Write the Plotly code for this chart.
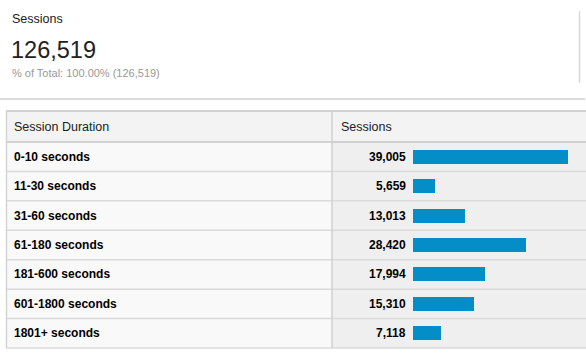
import plotly.graph_objects as go

# ---- data ----
durations = ["0-10 seconds", "11-30 seconds", "31-60 seconds", "61-180 seconds",
             "181-600 seconds", "601-1800 seconds", "1801+ seconds"]
sessions = [39005, 5659, 13013, 28420, 17994, 15310, 7118]
metric_name = "Sessions"
total_sessions = 126519
col_headers = ["Session Duration", "Sessions"]

W, H = 586, 355
FONT = "Arial, 'Liberation Sans', sans-serif"

def px(x):
    return x / W

def py(y):
    return 1 - y / H

table_top, header_bot, table_bot = 111, 142, 348
left, divider, right = 6, 332, 586
row_h = (table_bot - header_bot) / len(durations)
bar_start, bar_full = 413, 568  # pixel where 0 and max value fall

xmax = max(sessions) * (W - bar_start) / (bar_full - bar_start)

fig = go.Figure()
fig.add_trace(go.Bar(
    x=sessions, y=durations, orientation="h",
    marker=dict(color="#058dc7", line=dict(width=0)),
    width=0.48, hoverinfo="skip", showlegend=False,
))

shapes = []
shapes.append(dict(type="rect", xref="paper", yref="paper",
                   x0=px(left), x1=px(right), y0=py(header_bot), y1=py(table_top),
                   fillcolor="#f3f3f3", line=dict(width=0), layer="below"))
shapes.append(dict(type="rect", xref="paper", yref="paper",
                   x0=px(left), x1=px(divider), y0=py(table_bot), y1=py(header_bot),
                   fillcolor="#f9f9f9", line=dict(width=0), layer="below"))
shapes.append(dict(type="rect", xref="paper", yref="paper",
                   x0=px(divider), x1=px(right), y0=py(table_bot), y1=py(header_bot),
                   fillcolor="#efefef", line=dict(width=0), layer="below"))
for i in range(1, len(durations) + 1):
    yy = header_bot + i * row_h
    shapes.append(dict(type="line", xref="paper", yref="paper",
                       x0=px(left), x1=px(right), y0=py(yy), y1=py(yy),
                       line=dict(color="#dadada", width=1.5), layer="below"))
for yy in (table_top, header_bot):
    shapes.append(dict(type="line", xref="paper", yref="paper",
                       x0=px(left), x1=px(right), y0=py(yy), y1=py(yy),
                       line=dict(color="#c6c6c6", width=1.5), layer="below"))
shapes.append(dict(type="line", xref="paper", yref="paper",
                   x0=px(left + 0.5), x1=px(left + 0.5), y0=py(table_bot), y1=py(table_top),
                   line=dict(color="#d4d4d4", width=1.5), layer="below"))
shapes.append(dict(type="line", xref="paper", yref="paper",
                   x0=px(divider), x1=px(divider), y0=py(table_bot), y1=py(table_top),
                   line=dict(color="#d0d0d0", width=1.5), layer="below"))
shapes.append(dict(type="line", xref="paper", yref="paper",
                   x0=0, x1=px(585), y0=py(99), y1=py(99),
                   line=dict(color="#cfcfcf", width=1.5), layer="below"))
shapes.append(dict(type="line", xref="paper", yref="paper",
                   x0=px(579.5), x1=px(579.5), y0=py(83), y1=py(11),
                   line=dict(color="#d8d8d8", width=1.5), layer="below"))

ann = []
def txt(text, x, y, size, color, yref="paper", anchor="left"):
    ann.append(dict(text=text, x=px(x), y=(py(y) if yref == "paper" else y),
                    xref="paper", yref=yref, xanchor=anchor, yanchor="middle",
                    showarrow=False, borderpad=0,
                    font=dict(family=FONT, size=size, color=color)))

txt(metric_name, 11, 19, 12.5, "#222222")
txt(f"{total_sessions:,}", 10, 50, 23.5, "#222222")
txt(f"% of Total: 100.00% ({total_sessions:,})", 11, 73, 11, "#999999")
txt(col_headers[0], 13, 127, 12.5, "#222222")
txt(col_headers[1], 340, 127, 12.5, "#222222")
for d, v in zip(durations, sessions):
    txt(f"<b>{d}</b>", 13, d, 12, "#000000", yref="y")
    txt(f"<b>{v:,}</b>", 407, d, 12, "#000000", yref="y", anchor="right")

fig.update_layout(
    width=W, height=H, margin=dict(l=0, r=0, t=0, b=0),
    paper_bgcolor="white", plot_bgcolor="rgba(0,0,0,0)",
    xaxis=dict(domain=[px(bar_start), 1], range=[0, xmax], visible=False, fixedrange=True),
    yaxis=dict(domain=[py(table_bot), py(header_bot)], range=[len(durations) - 0.5, -0.5],
               type="category", categoryorder="array", categoryarray=durations,
               visible=False, fixedrange=True),
    shapes=shapes, annotations=ann, bargap=0,
)

fig.write_html("out.html", config={"displayModeBar": False})
